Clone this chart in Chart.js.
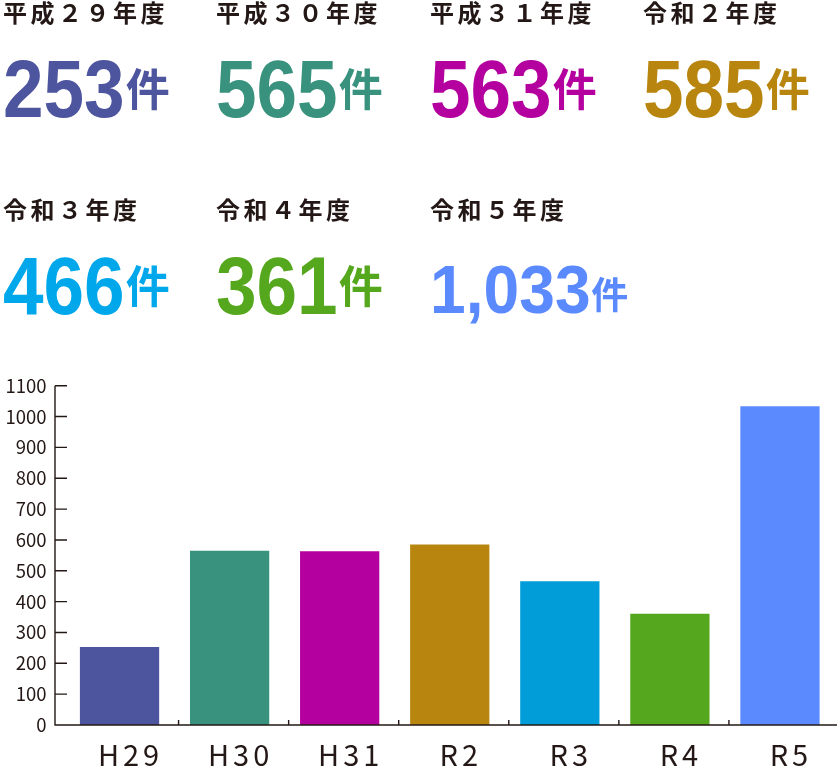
<!DOCTYPE html>
<html lang="ja">
<head>
<meta charset="utf-8">
<title>件数の推移</title>
<script src="https://cdn.jsdelivr.net/npm/chart.js@4"></script>
<style>
  html, body { margin: 0; padding: 0; background: #fff; }
  #wrap { position: relative; width: 837px; height: 770px; overflow: hidden; }
  #chart { position: absolute; left: 0; top: 0; }
  .stat { position: absolute; white-space: nowrap; }
  .stat .year {
    position: absolute; left: 0; top: 0;
    font-family: "Noto Sans CJK JP", sans-serif; font-weight: 700;
    font-size: 24px; line-height: 24px; letter-spacing: 3.5px; color: #231815;
  }
  .stat .count {
    position: absolute; left: 0; top: 49px; display: flex; align-items: baseline;
    font-family: "Liberation Sans", sans-serif; font-weight: 700;
    font-size: 81px; line-height: 81px;
  }
  .stat .num { display: inline-block; transform: scaleX(0.9); transform-origin: 0 0; }
  .stat .unit {
    font-family: "Noto Sans CJK JP", sans-serif; font-weight: 700;
    font-size: 44px; line-height: 44px; position: relative; top: -11px; margin-left: 1px;
  }
  /* four-digit figure is set smaller */
  .stat .count.long { top: 58px; font-size: 69px; line-height: 69px; }
  .stat .count.long .num { transform: scaleX(0.93); }
  .stat .count.long .unit { font-size: 37px; line-height: 37px; top: -4px; }
</style>
</head>
<body>
<div id="wrap">
  <canvas id="chart" width="837" height="770"></canvas>
  <div id="stats"></div>
</div>
<script>
/* ── data ── */
const categories  = ['H29', 'H30', 'H31', 'R2', 'R3', 'R4', 'R5'];
const fiscalYears = ['平成２９年度', '平成３０年度', '平成３１年度', '令和２年度', '令和３年度', '令和４年度', '令和５年度'];
const counts      = [253, 565, 563, 585, 466, 361, 1033];
const barColors   = ['#4e559f', '#38927e', '#b4009f', '#b8860e', '#009dd9', '#55a81d', '#5b8aff'];
const textColors  = ['#4e559f', '#38927e', '#b4009f', '#b8860e', '#00a8eb', '#55a81d', '#5b8aff'];
const yTickMax    = 1100;
const yTickStep   = 100;

const INK = '#231815';

/* ── headline figures ── */
const colLeft = [3, 216, 430, 643];
const rowTop  = [0, 197];

const stats = document.getElementById('stats');
stats.innerHTML = fiscalYears.map((fy, i) => {
  const left = colLeft[i % 4];
  const top  = rowTop[Math.floor(i / 4)];
  const cls  = counts[i] >= 1000 ? 'count long' : 'count';
  return `
    <div class="stat" style="left:${left}px;top:${top}px;">
      <div class="year">${fy}</div>
      <div class="${cls}" style="color:${textColors[i]};"><span class="num">${counts[i].toLocaleString('en-US')}</span><span class="unit">件</span></div>
    </div>`;
}).join('');

// pull the unit in to meet the condensed figures
document.querySelectorAll('.stat .num').forEach((el) => {
  const w = el.offsetWidth;
  const drawn = el.getBoundingClientRect().width;
  el.style.marginRight = (drawn - w) + 'px';
});

/* ── axis frame: inward ticks, axis offset left of the bars ── */
const axisFrame = {
  id: 'axisFrame',
  beforeDraw(chart) {
    const x = chart.scales.x;
    if (x._spaced) return;
    const orig = x.drawLabels;
    x.drawLabels = function (area) {
      this.ctx.save();
      this.ctx.letterSpacing = '4px';
      orig.call(this, area);
      this.ctx.restore();
    };
    x._spaced = true;
  },
  afterDraw(chart) {
    const { ctx, scales: { x, y } } = chart;
    const x0 = 55;
    const y0 = y.getPixelForValue(0);
    ctx.save();
    ctx.strokeStyle = INK;
    ctx.lineWidth = 1.4;
    ctx.beginPath();
    ctx.moveTo(x0, y.getPixelForValue(yTickMax));
    ctx.lineTo(x0, y0);
    ctx.lineTo(chart.width, y0);
    y.ticks.forEach((t) => {
      const py = y.getPixelForValue(t.value);
      ctx.moveTo(x0, py);
      ctx.lineTo(x0 + 12, py);
    });
    for (let i = 1; i < categories.length; i++) {
      const px = (x.getPixelForValue(i - 1) + x.getPixelForValue(i)) / 2 + 4;
      ctx.moveTo(px, y0);
      ctx.lineTo(px, y0 - 5);
    }
    ctx.stroke();
    ctx.restore();
  },
};

new Chart(document.getElementById('chart').getContext('2d'), {
  type: 'bar',
  data: {
    labels: categories,
    datasets: [{
      data: counts,
      backgroundColor: barColors,
      borderWidth: 0,
      barPercentage: 0.72,
      categoryPercentage: 1,
    }],
  },
  options: {
    responsive: false,
    animation: false,
    devicePixelRatio: 1,
    layout: { padding: { top: 385.7, right: 2, left: 0, bottom: 0 } },
    plugins: { legend: { display: false }, tooltip: { enabled: false } },
    scales: {
      x: {
        grid: { display: false, drawTicks: false },
        border: { display: false },
        ticks: {
          color: INK,
          padding: 13,
          labelOffset: 11,
          font: { family: "'Noto Sans CJK JP'", size: 29, weight: 400 },
        },
        afterFit: (s) => { s.height = 45; },
      },
      y: {
        min: 0,
        max: yTickMax,
        grid: { display: false, drawTicks: false },
        border: { display: false },
        ticks: {
          stepSize: yTickStep,
          color: INK,
          padding: 18,
          font: { family: "'Noto Sans CJK JP'", size: 18.5, weight: 400 },
          callback: (v) => String(v),
        },
        afterFit: (s) => { s.width = 64.5; },
      },
    },
  },
  plugins: [axisFrame],
});
</script>
</body>
</html>
